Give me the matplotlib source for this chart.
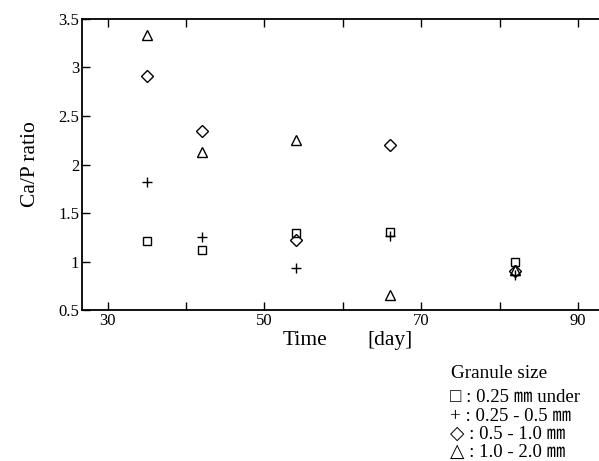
import matplotlib

matplotlib.use("Agg")

import matplotlib.pyplot as plt
import matplotlib.ticker as mticker

# Ca/P ratio by granule size
days = [35, 42, 54, 66, 82]
ratio_025_under = [1.21, 1.12, 1.29, 1.30, 1.00]
ratio_025_05 = [1.82, 1.25, 0.93, 1.26, 0.86]
ratio_05_10 = [2.91, 2.35, 1.22, 2.20, 0.90]
ratio_10_20 = [3.33, 2.13, 2.25, 0.66, 0.91]

x_ticks = [30, 50, 70, 90]
y_ticks = [0.5, 1, 1.5, 2, 2.5, 3, 3.5]
y_tick_labels = ["0.5", "1", "1.5", "2", "2.5", "3", "3.5"]

legend_lines = [
    "\u25a1 : 0.25 \u339c under",
    "+ : 0.25 - 0.5 \u339c",
    "\u25c7 : 0.5 - 1.0 \u339c",
    "\u25b3 : 1.0 - 2.0 \u339c",
]

SERIF = ["Liberation Serif", "DejaVu Sans", "Noto Sans CJK JP"]
plt.rcParams["font.family"] = SERIF

fig = plt.figure(figsize=(5.99, 4.61), dpi=100)
ax = fig.add_axes([0.137, 0.3275, 0.863, 0.6313])

mk = dict(linestyle="none", color="black", markerfacecolor="none", markeredgewidth=1.0)
ax.plot(days, ratio_025_under, marker="s", markersize=5.2, **mk)
ax.plot(days, ratio_025_05, marker="+", markersize=7, **mk)
ax.plot(days, ratio_05_10, marker="D", markersize=6.3, **mk)
ax.plot(days, ratio_10_20, marker="^", markersize=6.5, **mk)

ax.set_xlim(26.74, 92.68)
ax.set_ylim(0.5, 3.5)
ax.set_xticks(x_ticks)
ax.xaxis.set_minor_locator(mticker.MultipleLocator(10))
ax.set_yticks(y_ticks)
ax.set_yticklabels(y_tick_labels)
ax.tick_params(axis="x", which="both", direction="in", top=True, length=6, width=1, labelsize=12, pad=2)
ax.tick_params(axis="y", direction="in", length=6, width=1, labelsize=12, pad=2)
ax.spines["right"].set_visible(False)
for side in ("left", "top", "bottom"):
    ax.spines[side].set_linewidth(1.3)

ax.set_ylabel("Ca/P ratio", fontsize=15.5, labelpad=13)
fig.text(0.472, 0.262, "Time", fontsize=15.5, ha="left", va="center")
fig.text(0.613, 0.262, "[day]", fontsize=15.5, ha="left", va="center")

fig.text(0.753, 0.19, "Granule size", fontsize=13.8, ha="left", va="center")
for i, line in enumerate(legend_lines):
    fig.text(0.752, 0.137 - i * 0.0395, line, fontsize=13.5, ha="left", va="center")

fig.savefig("out.png", dpi=100)
